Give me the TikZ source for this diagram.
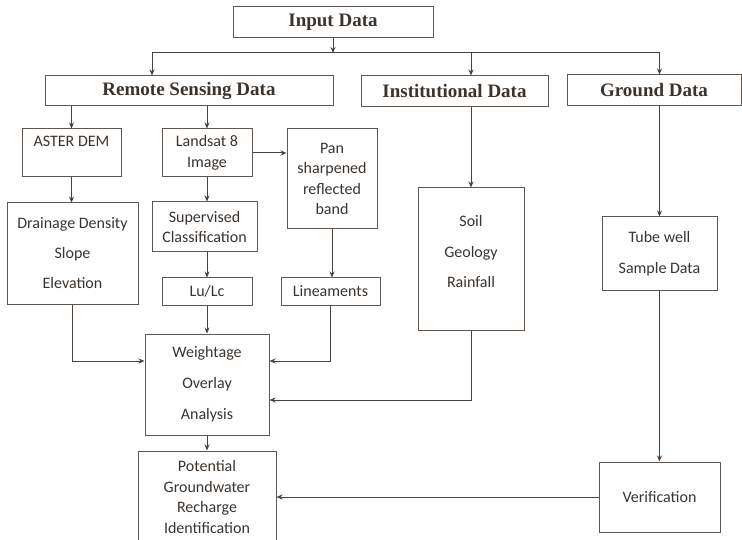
\documentclass[tikz,border=0pt]{standalone}
\usepackage{fontspec}
\setmainfont{Carlito}
\newfontfamily\headfont{Liberation Serif}
\usetikzlibrary{arrows.meta}
\definecolor{linegray}{HTML}{4A423C}
\definecolor{boxgray}{HTML}{5E5752}
\definecolor{textgray}{HTML}{3A332E}

\begin{document}
\begin{tikzpicture}[
    x=1pt, y=-1pt,
    databox/.style={draw=boxgray, line width=1pt, text=textgray, align=center, inner sep=2pt, font=\fontsize{16}{20.5}\selectfont},
    headbox/.style={databox, font=\headfont\bfseries\fontsize{19}{22}\selectfont},
    link/.style={draw=linegray, line width=1pt, -{Stealth[length=6pt, width=5pt]}}
]
    \useasboundingbox (0,0) rectangle (742,540);

    % Header boxes
    \node[headbox, minimum width=200pt, minimum height=31pt] (inp) at (333,22.5) {Input Data};
    \node[headbox, minimum width=288pt, minimum height=30pt] (rsd) at (189,91) {Remote Sensing Data};
    \node[headbox, minimum width=187pt, minimum height=31pt] (ins) at (454.5,91.5) {Institutional Data};
    \node[headbox, minimum width=174pt, minimum height=31pt] (grd) at (654,90.5) {Ground Data};
    \coordinate (bus) at (333,53);

    % Remote sensing branch
    \node[databox, minimum width=99pt, minimum height=48pt] (aster) at (71.5,153) {ASTER DEM\\\phantom{Image}};
    \node[databox, minimum width=90pt, minimum height=48pt] (land) at (207,153) {Landsat 8\\Image};
    \node[databox, minimum width=90pt, minimum height=100pt] (pan) at (332,179) {Pan\\sharpened\\reflected\\band};
    \node[databox, minimum width=131pt, minimum height=101pt] (drain) at (72.5,253.5) {Drainage Density\\[9.5pt]Slope\\[9.5pt]Elevation};
    \node[databox, minimum width=105pt, minimum height=50pt] (sup) at (204.5,227) {Supervised\\Classification};
    \node[databox, minimum width=90pt, minimum height=27pt] (lulc) at (207,291.5) {Lu/Lc};
    \node[databox, minimum width=99pt, minimum height=27pt] (lin) at (330.5,291.5) {Lineaments};
    \node[databox, minimum width=124pt, minimum height=101pt] (wt) at (207,384.5) {Weightage\\[10.5pt]Overlay\\[10.5pt]Analysis};
    \node[databox, minimum width=138pt, minimum height=92pt] (pot) at (207,497) {Potential\\Groundwater\\Recharge\\Identification};

    % Institutional and ground branches
    \node[databox, minimum width=106pt, minimum height=142pt] (soil) at (471,259) {Soil\\[10pt]Geology\\[10pt]Rainfall\\[-6pt]\mbox{}};
    \node[databox, minimum width=115pt, minimum height=74pt] (tube) at (659.5,254) {Tube well\\[10.5pt]Sample Data};
    \node[databox, minimum width=121pt, minimum height=70pt] (ver) at (659.5,497) {Verification};

    % Arrows
    \draw[link] (inp) -- (bus);
    \draw[link] (bus) -| ([xshift=-37pt]rsd.north);
    \draw[link] (bus) -| (soil.north |- ins.north);
    \draw[link] (bus) -| (tube.north |- grd.north);

    \draw[link] (rsd.south -| aster.north) -- (aster.north);
    \draw[link] (rsd.south -| land.north) -- (land.north);
    \draw[link] (aster.south) -- (aster.south |- drain.north);
    \draw[link] (land.south) -- (land.south |- sup.north);
    \draw[link] (land.east) -- (land.east -| pan.west);
    \draw[link] (sup.south -| lulc.north) -- (lulc.north);
    \draw[link] (pan.south) -- (pan.south |- lin.north);
    \draw[link] (lulc) -- (wt);
    \draw[link] (drain.south) |- ([yshift=23.5pt]wt.west);
    \draw[link] (lin.south) |- ([yshift=23.5pt]wt.east);
    \draw[link] (wt) -- (pot);

    \draw[link] (ins.south -| soil.north) -- (soil.north);
    \draw[link] (soil.south) |- ([yshift=-15.5pt]wt.east);
    \draw[link] (grd.south -| tube.north) -- (tube.north);
    \draw[link] (tube) -- (ver);
    \draw[link] (ver.west) -- (ver.west -| pot.east);
\end{tikzpicture}
\end{document}
